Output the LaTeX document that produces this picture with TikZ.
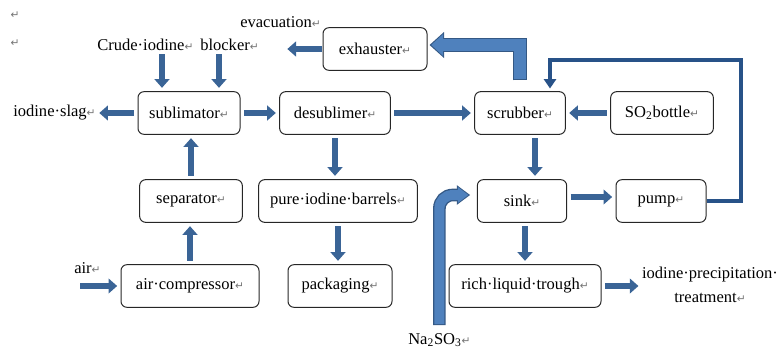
\documentclass[tikz,border=0pt]{standalone}
\usepackage{fontspec}
\setmainfont{Liberation Serif}
\newfontfamily\markfont{DejaVu Sans}
\usepackage{xcolor}
\usetikzlibrary{arrows.meta}
\definecolor{flowblue}{RGB}{58,100,150}
\definecolor{tubeblue}{RGB}{79,129,189}
\definecolor{tubeedge}{RGB}{52,88,132}
\definecolor{loopblue}{RGB}{40,82,136}
\newcommand{\retmark}{{\markfont\fontsize{8}{8}\selectfont\textcolor{black!55}{↵}}}

\begin{document}
\begin{tikzpicture}[
  x=0.75pt, y=-0.75pt,
  font=\fontsize{12.4}{18}\selectfont,
  unit/.style={draw=black!85, rounded corners=4.5pt, line width=0.75pt, minimum height=32pt, inner sep=2pt},
  tag/.style={inner sep=0pt, anchor=west},
  flow/.style={line width=4.5pt, draw=flowblue, -{Triangle[width=11pt,length=6.5pt]}, shorten <=2.5pt, shorten >=2.5pt},
  tubeout/.style={line width=11pt, draw=tubeedge, line join=miter},
  tubein/.style={line width=9pt, draw=tubeblue, line join=miter},
  loopline/.style={line width=3pt, draw=loopblue, line join=miter, -{Triangle[width=9pt,length=7pt]}}
]
  \path[use as bounding box] (0,0) rectangle (780,349);

  \node[inner sep=0pt] (markA) at (15,15) {\retmark};
  \node[inner sep=0pt] (markB) at (15,43) {\retmark};

  \node[unit, minimum width=78pt] (exhaust) at (375,49) {exhauster\retmark};
  \node[unit, minimum width=76.5pt] (sublim) at (189,113) {sublimator\retmark};
  \node[unit, minimum width=83pt] (desub) at (335,113) {desublimer\retmark};
  \node[unit, minimum width=68pt] (scrub) at (520,113) {scrubber\retmark};
  \node[unit, minimum width=77pt] (so2) at (662,113) {SO\textsubscript{2}bottle\retmark};
  \node[unit, minimum width=77pt] (sep) at (191,201) {separator\retmark};
  \node[unit, minimum width=119pt] (pure) at (338,201) {pure·iodine·barrels\retmark};
  \node[unit, minimum width=67pt] (sink) at (522,201) {sink\retmark};
  \node[unit, minimum width=67.5pt] (pump) at (661,201) {pump\retmark};
  \node[unit, minimum width=103.5pt] (aircomp) at (190,286) {air·compressor\retmark};
  \node[unit, minimum width=78pt] (pack) at (340,286) {packaging\retmark};
  \node[unit, minimum width=114pt] (rich) at (525,286) {rich·liquid·trough\retmark};

  \node[tag] (evac) at (240,22) {evacuation\retmark};
  \node[tag] (crude) at (97,45) {Crude·iodine\retmark};
  \node[tag] (blocker) at (200,45) {blocker\retmark};
  \node[tag] (slag) at (13,113) {iodine·slag\retmark};
  \node[tag] (air) at (74,268) {air\retmark};
  \node[tag] (na) at (408,340) {Na\textsubscript{2}SO\textsubscript{3}\retmark};
  \node[inner sep=0pt, align=center] (precip) at (710,285) {iodine·precipitation·\\treatment\retmark};

  \coordinate (crudein) at (162,90);
  \coordinate (blockin) at (219,90);
  \coordinate (evacout) at (284,49);
  \coordinate (airin) at (80,286);
  \coordinate (loopturn) at (741,60);
  \coordinate (loopdrop) at (550,60);
  \coordinate (scrubout) at (535,113);

  \draw[flow] (crude.south -| crudein) -- (crudein |- sublim.north);
  \draw[flow] (blocker.south -| blockin) -- (blockin |- sublim.north);
  \draw[flow] (sublim.west) -- (slag.east);
  \draw[flow] (sublim.east) -- (desub.west);
  \draw[flow] (desub.east) -- (scrub.west);
  \draw[flow] (so2.west) -- (scrub.east);
  \draw[flow, shorten <=0.5pt] (exhaust.west) -- (evacout);
  \draw[flow] (desub.south) -- (desub.south |- pure.north);
  \draw[flow] (pure.south) -- (pure.south |- pack.north);
  \draw[flow] (sep.north) -- (sep.north |- sublim.south);
  \draw[flow] (aircomp.north) -- (aircomp.north |- sep.south);
  \draw[flow, shorten <=0pt] (airin) -- (aircomp.west);
  \draw[flow] (scrub.south -| scrubout) -- (scrubout |- sink.north);
  \draw[flow] (sink.south -| rich.north) -- (rich.north);
  \draw[flow] ([yshift=3pt]sink.east) -- ([yshift=3pt]pump.west);
  \draw[flow] (rich.east) -- (rich.east -| precip.west);

  \draw[loopline, shorten >=2pt] (pump.east) -| (loopturn) -- (loopdrop) -- (loopdrop |- scrub.north);

  \draw[tubeout, -{Triangle[width=19pt,length=11pt]}, shorten >=1.5pt] ([yshift=8pt]scrub.north) |- ([yshift=3pt]exhaust.east);
  \draw[tubein, -{Triangle[width=16pt,length=9pt]}, shorten >=2.8pt, shorten <=0.75pt] ([yshift=8pt]scrub.north) |- ([yshift=3pt]exhaust.east);

  \draw[tubeout, rounded corners=10pt, line width=9.5pt, -{Triangle[width=14pt,length=10pt]}, shorten >=5pt] ([yshift=6pt]na.north) |- ([yshift=4.5pt]sink.west);
  \draw[tubein, rounded corners=10pt, line width=7.5pt, -{Triangle[width=11.5pt,length=8pt]}, shorten >=6.3pt, shorten <=0.75pt] ([yshift=6pt]na.north) |- ([yshift=4.5pt]sink.west);
\end{tikzpicture}
\end{document}
